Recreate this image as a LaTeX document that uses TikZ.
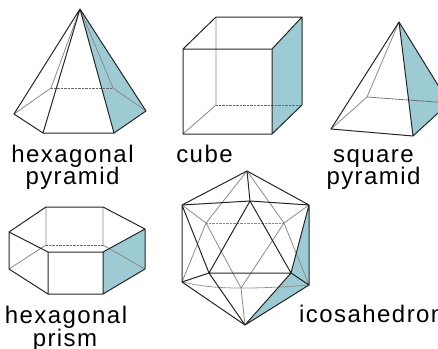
\documentclass[tikz,border=0pt]{standalone}
\usepackage{fontspec}
\setmainfont{Liberation Sans}[LetterSpace=6]
\definecolor{shade}{HTML}{9DCBD3}
\definecolor{hid}{HTML}{8A8A8A}
\tikzset{
  x=1pt,y=-1pt,
  vis/.style={draw=black!85,line width=1pt,line join=round,line cap=round},
  back/.style={draw=hid,line width=0.8pt},
  backd/.style={draw=black!60,line width=0.8pt,dash pattern=on 1pt off 0.4pt},
  backg/.style={draw=hid,line width=0.8pt,dash pattern=on 1pt off 0.4pt},
  face/.style={fill=shade},
  lab/.style={font=\fontsize{24}{20}\selectfont,align=center,inner sep=0pt,anchor=base}
}
\begin{document}
\begin{tikzpicture}
\useasboundingbox (0,0) rectangle (438,348);
\clip (0,0) rectangle (438,348);
% hexagonal pyramid
\coordinate (hA) at (80,9);
\coordinate (h1) at (14,114);
\coordinate (h2) at (43,133);
\coordinate (h3) at (114,133);
\coordinate (h4) at (146,111);
\coordinate (h5) at (113,88);
\coordinate (h6) at (51,88);
\fill[face] (hA)--(h3)--(h4)--cycle;
\draw[back] (h1)--(h6)--(hA);
\draw[backd] (h6)--(h5);
\draw[back] (h5)--(hA);
\draw[back] (h5)--(h4);
\draw[vis] (hA)--(h1)--(h2)--(h3)--(h4)--cycle (hA)--(h2) (hA)--(h3);
% cube
\coordinate (c1) at (183,49);
\coordinate (c2) at (272,49);
\coordinate (c3) at (272,134);
\coordinate (c4) at (183,134);
\coordinate (c5) at (216,17);
\coordinate (c6) at (302,17);
\coordinate (c7) at (302,105);
\coordinate (c8) at (216,105);
\fill[face] (c2)--(c6)--(c7)--(c3)--cycle;
\draw[back] (c5)--(c8)--(c4);
\draw[backd] (c8)--(c7);
\draw[vis] (c1)--(c2)--(c3)--(c4)--cycle (c1)--(c5)--(c6)--(c2) (c6)--(c7)--(c3);
% square pyramid
\coordinate (sA) at (399,22);
\coordinate (s1) at (331,129);
\coordinate (s2) at (413,136);
\coordinate (s3) at (449,103);
\coordinate (s4) at (367,97);
\fill[face] (sA)--(s2)--(s3)--cycle;
\draw[back] (s1)--(s4)--(sA);
\draw[backd] (s4)--(s3);
\draw[vis] (sA)--(s1)--(s2)--(s3)--cycle (sA)--(s2);
% hexagonal prism
\coordinate (p1) at (9,232);
\coordinate (p2) at (46,207);
\coordinate (p3) at (103,207);
\coordinate (p4) at (145,229);
\coordinate (p5) at (103,252);
\coordinate (p6) at (48,252);
\coordinate (q1) at (9,269);
\coordinate (q2) at (46,245);
\coordinate (q3) at (103,245);
\coordinate (q4) at (145,269);
\coordinate (q5) at (103,294);
\coordinate (q6) at (48,294);
\fill[face] (p5)--(p4)--(q4)--(q5)--cycle;
\draw[back] (p2)--(q2)--(q1) (p3)--(q3)--(q4);
\draw[backd] (q2)--(q3);
\draw[vis] (p1)--(p2)--(p3)--(p4)--(p5)--(p6)--cycle (p1)--(q1)--(q6)--(q5)--(q4)--(p4) (p6)--(q6) (p5)--(q5);
% icosahedron
\coordinate (iT) at (247,171);
\coordinate (iUL) at (182,205);
\coordinate (iUR) at (309,205);
\coordinate (iLL) at (182,282);
\coordinate (iLR) at (309,285);
\coordinate (iB) at (245,325);
\coordinate (fT) at (250,201);
\coordinate (fL) at (209,273);
\coordinate (fR) at (291,273);
\coordinate (bL) at (206,223);
\coordinate (bR) at (284,223);
\coordinate (bB) at (241,288);
\fill[face] (iUR)--(iLR)--(iB)--(fR)--cycle;
\draw[back] (iT)--(bL)--(iUL) (iT)--(bR)--(iUR) (bL)--(iLL) (bR)--(iLR) (bL)--(bB)--(bR) (bB)--(iB);
\draw[backg] (bL)--(bR);
\draw[backg] (iLL) .. controls (205,287) and (220,288) .. (bB) .. controls (265,288) and (285,287) .. (iLR);
\draw[vis] (iT)--(iUL)--(iLL)--(iB)--(iLR)--(iUR)--cycle
  (iT)--(fT) (iUL)--(fT)--(iUR) (fT)--(fL)--(fR)--cycle
  (iUL)--(fL)--(iLL) (fL)--(iB)--(fR)--(iLR) (fR)--(iUR);
% labels
\node[lab] (t1) at (72.5,162) {hexagonal};
\node[lab] (t2) at (72.5,184) {pyramid};
\node[lab] (t3) at (204.5,162) {cube};
\node[lab] (t4) at (373.5,162) {square};
\node[lab] (t5) at (373.5,184) {pyramid};
\node[lab] (t6) at (66,323) {hexagonal};
\node[lab] (t7) at (65,346) {prism};
\node[lab,anchor=base west] (t8) at (299,322) {icosahedron};
\end{tikzpicture}
\end{document}
